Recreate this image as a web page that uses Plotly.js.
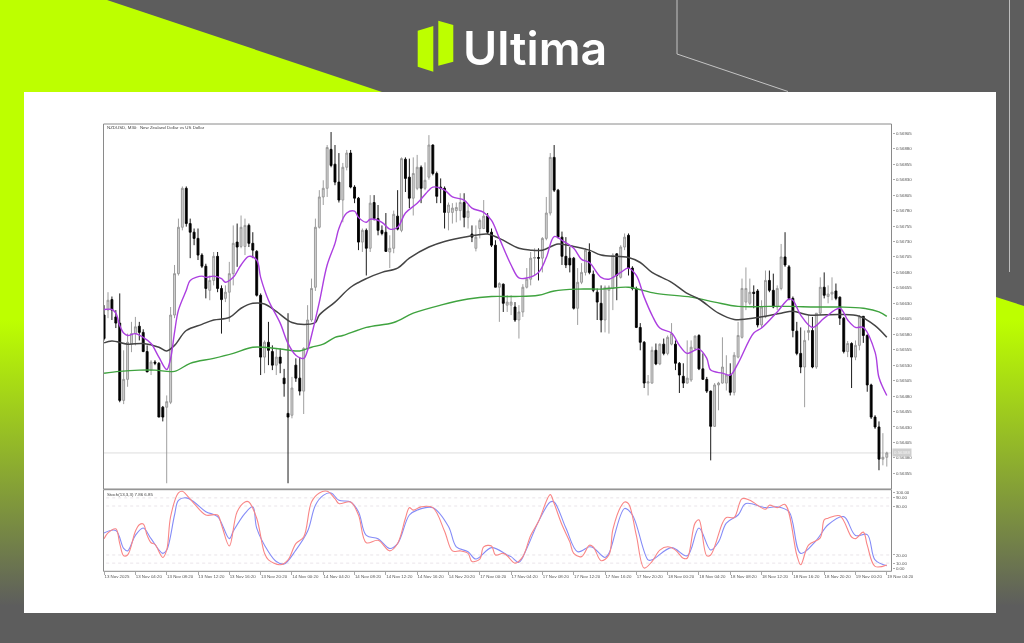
<!DOCTYPE html>
<html><head><meta charset="utf-8">
<script src="https://cdn.plot.ly/plotly-3.0.1.min.js"></script>
<style>
html,body{margin:0;padding:0;width:1024px;height:643px;overflow:hidden;background:#5d5d5d}
.g{position:absolute;left:0;top:0;width:1024px;height:643px;background:linear-gradient(#bdff00 0,#bdff00 320px,#5d5d5d 606px)}
#gl{clip-path:polygon(0 0,107px 0,382px 92px,24px 92px,24px 613px,0 613px)}
#gr{clip-path:polygon(996px 297px,1024px 306px,1024px 613px,996px 613px)}
#chart{position:absolute;left:0;top:0;width:1024px;height:643px}
#chart .cartesianlayer{filter:blur(0.35px)}
#chart .annotation:not([data-index="0"]){filter:blur(0.3px)}
</style></head><body>
<div id="gl" class="g"></div><div id="gr" class="g"></div><div id="chart"></div>
<script>
// Prices in points (1 point = 0.00001)
const opens=[56611,56619,56636,56608,56598,56473,56507,56564,56581,56593,56583,56552,56522,56535,56533,56462,56462,56470,56611,56678,56753,56816,56759,56745,56735,56708,56690,56651,56667,56706,56654,56638,56648,56678,56729,56722,56722,56756,56727,56714,56643,56543,56567,56552,56530,56543,56509,56452,56449,56530,56509,56488,56557,56603,56656,56753,56802,56816,56879,56855,56826,56797,56850,56873,56818,56800,56729,56748,56719,56793,56767,56748,56745,56713,56719,56771,56748,56863,56834,56800,56816,56850,56816,56834,56886,56840,56818,56816,56777,56777,56780,56780,56793,56769,56742,56719,56751,56751,56771,56745,56724,56656,56661,56627,56627,56624,56603,56616,56656,56669,56703,56704,56703,56735,56776,56866,56813,56737,56706,56703,56703,56622,56664,56680,56713,56677,56648,56630,56603,56651,56654,56710,56672,56721,56740,56687,56654,56591,56567,56501,56501,56554,56532,56564,56549,56564,56564,56533,56512,56501,56506,56557,56578,56524,56507,56488,56431,56498,56501,56501,56514,56486,56543,56575,56632,56630,56648,56650,56595,56608,56667,56651,56624,56654,56705,56689,56638,56585,56549,56527,56583,56586,56527,56614,56656,56641,56645,56650,56640,56606,56552,56565,56543,56562,56609,56578,56498,56446,56430,56378,56381];
const highs=[56627,56648,56641,56619,56646,56554,56581,56600,56608,56600,56588,56562,56538,56538,56535,56464,56481,56624,56692,56767,56819,56819,56767,56751,56751,56711,56694,56675,56713,56713,56659,56659,56697,56756,56759,56772,56767,56759,56745,56716,56646,56570,56600,56562,56557,56557,56524,56614,56511,56541,56543,56559,56627,56670,56767,56813,56829,56886,56907,56886,56873,56857,56878,56878,56821,56802,56751,56751,56805,56805,56789,56756,56776,56740,56780,56813,56866,56866,56864,56866,56870,56853,56858,56902,56887,56843,56832,56819,56793,56792,56793,56808,56808,56789,56756,56756,56767,56797,56776,56751,56732,56664,56662,56643,56643,56632,56627,56661,56687,56713,56719,56719,56737,56802,56873,56886,56815,56746,56737,56721,56705,56687,56695,56719,56727,56683,56654,56659,56659,56659,56711,56711,56724,56743,56743,56690,56657,56598,56569,56514,56560,56565,56565,56573,56578,56598,56570,56535,56533,56570,56570,56578,56580,56549,56511,56489,56501,56503,56575,56546,56533,56551,56600,56670,56688,56670,56659,56653,56635,56683,56683,56678,56659,56726,56745,56692,56641,56600,56591,56586,56611,56608,56614,56672,56680,56659,56672,56662,56641,56608,56569,56567,56570,56611,56609,56580,56500,56449,56439,56420,56390];
const lows=[56570,56606,56603,56590,56470,56467,56495,56551,56562,56570,56551,56519,56514,56530,56446,56439,56339,56467,56606,56675,56748,56754,56703,56724,56700,56687,56638,56635,56659,56648,56581,56632,56600,56659,56689,56719,56708,56721,56703,56641,56514,56517,56530,56522,56514,56517,56479,56339,56444,56503,56481,56451,56554,56600,56650,56751,56789,56802,56850,56821,56793,56761,56845,56816,56792,56716,56713,56675,56713,56764,56740,56740,56713,56687,56711,56748,56745,56810,56784,56772,56813,56792,56813,56830,56837,56792,56792,56751,56748,56759,56761,56764,56753,56751,56729,56714,56735,56750,56742,56721,56656,56600,56616,56616,56611,56600,56573,56608,56654,56659,56675,56667,56680,56732,56772,56810,56735,56692,56687,56680,56620,56595,56661,56675,56677,56648,56603,56583,56583,56581,56619,56635,56670,56716,56675,56651,56590,56554,56493,56481,56500,56530,56530,56546,56546,56562,56522,56485,56493,56500,56503,56554,56522,56506,56485,56376,56430,56457,56500,56489,56481,56481,56541,56573,56619,56627,56622,56591,56590,56606,56648,56622,56619,56651,56689,56635,56575,56546,56517,56462,56570,56525,56524,56611,56638,56630,56635,56635,56595,56549,56543,56493,56538,56554,56566,56487,56443,56427,56360,56368,56366];
const closes=[56573,56635,56619,56598,56473,56507,56567,56581,56592,56583,56552,56519,56535,56533,56446,56446,56471,56611,56678,56753,56816,56759,56745,56735,56708,56690,56654,56667,56706,56654,56636,56648,56678,56727,56721,56753,56756,56727,56716,56643,56543,56567,56554,56530,56543,56533,56500,56446,56493,56509,56488,56557,56603,56654,56753,56802,56816,56882,56853,56826,56797,56850,56873,56818,56800,56729,56748,56719,56792,56767,56748,56743,56714,56719,56774,56750,56864,56832,56800,56840,56850,56816,56829,56886,56840,56803,56816,56777,56789,56784,56785,56793,56769,56779,56737,56737,56764,56771,56745,56724,56656,56662,56630,56632,56632,56603,56616,56656,56669,56703,56704,56703,56735,56776,56866,56813,56737,56706,56692,56692,56622,56664,56680,56716,56680,56651,56632,56603,56656,56656,56708,56675,56721,56737,56687,56654,56591,56567,56501,56503,56554,56532,56564,56549,56575,56581,56533,56514,56501,56509,56559,56577,56524,56507,56488,56431,56498,56501,56527,56514,56486,56546,56578,56654,56654,56648,56646,56595,56624,56667,56651,56624,56654,56705,56692,56638,56586,56549,56527,56570,56586,56527,56614,56656,56643,56645,56648,56638,56606,56552,56565,56543,56562,56608,56578,56498,56446,56430,56378,56381,56388];

// Moving averages, read at the candle numbers listed
const fastIdx=[0,2,3,4,5,6,8,10,12,14,16,17,18,19,21,22,25,26,28,30,31,33,35,37,39,40,42,45,47,49,51,52,53,55,57,59,60,62,64,65,67,68,71,73,75,77,80,83,84,87,89,92,94,97,99,101,104,106,108,111,113,115,117,120,122,124,127,129,132,134,136,138,140,142,145,147,149,152,154,155,158,160,162,166,168,172,175,176,178,181,184,188,190,192,194,197,198,200];
const fastMA=[56620,56620,56614,56594,56582,56578,56581,56575,56565,56543,56523,56541,56583,56619,56651,56667,56674,56672,56674,56670,56664,56672,56692,56706,56700,56672,56635,56598,56565,56546,56541,56554,56578,56632,56692,56727,56751,56776,56779,56769,56761,56766,56761,56750,56753,56776,56792,56813,56818,56813,56802,56797,56784,56777,56764,56735,56692,56671,56671,56680,56704,56738,56732,56719,56701,56696,56672,56669,56680,56687,56675,56640,56611,56590,56582,56562,56549,56556,56541,56522,56517,56514,56533,56582,56590,56616,56637,56635,56611,56591,56606,56622,56603,56591,56591,56551,56510,56481];
const midIdx=[0,2,6,10,14,16,18,21,25,28,32,35,38,41,44,48,52,54,55,59,63,67,71,75,78,83,87,93,98,101,106,109,112,116,120,124,127,134,137,140,145,149,152,157,161,167,173,176,180,188,193,197,200];
const midMA=[56566,56569,56564,56565,56559,56553,56562,56586,56596,56603,56607,56622,56630,56629,56617,56599,56596,56599,56611,56632,56656,56670,56680,56687,56703,56721,56730,56738,56742,56735,56719,56716,56716,56726,56722,56716,56708,56704,56696,56680,56664,56646,56637,56614,56604,56607,56614,56617,56611,56612,56609,56594,56575];
const slowIdx=[0,4,9,13,18,22,28,33,38,44,50,53,56,59,61,67,74,79,86,93,99,105,111,115,121,127,129,134,141,150,156,162,170,175,182,188,194,198,200];
const slowMA=[56517,56520,56522,56522,56520,56533,56541,56549,56559,56557,56553,56559,56564,56575,56578,56591,56599,56614,56627,56637,56641,56641,56643,56650,56653,56653,56654,56656,56646,56640,56632,56625,56625,56625,56624,56624,56622,56616,56609];

// Stochastic(13,3,3)
const stochMainIdx=[0,1,3,4,5,6,8,9,10,11,12,13,15,16,17,19,20,21,23,26,29,30,32,34,36,37,39,41,42,45,47,49,51,53,55,57,59,60,63,65,67,70,73,75,77,78,79,81,84,87,89,91,93,94,96,97,99,100,102,103,105,107,109,111,114,115,117,119,120,122,124,125,127,129,130,132,133,134,136,138,140,142,144,146,148,149,151,152,154,155,158,159,161,163,165,169,170,172,174,177,178,180,183,184,185,188,191,192,194,195,197,200];
const stochMain=[40,47,52,34,19,20,49,57,58,44,35,33,17,26,67,96,98,94,83,69,69,57,31,73,85,85,65,22,14,8,14,34,42,85,96,98,89,83,85,69,35,38,25,34,65,78,75,79,78,49,25,25,22,12,15,30,31,20,22,19,10,18,44,61,94,83,57,36,22,18,32,30,13,20,51,79,85,83,44,4,12,26,30,26,16,16,59,63,19,20,59,66,66,89,87,76,81,78,82,20,8,32,41,63,65,68,42,40,48,32,6,7.86];
const stochSigIdx=[0,3,5,6,8,10,12,15,16,18,19,21,23,26,29,32,33,36,38,39,42,44,46,49,52,54,56,58,60,63,65,67,70,73,75,78,80,84,88,90,93,95,99,103,104,106,108,111,114,115,118,121,124,125,128,129,133,135,139,140,145,149,152,155,157,159,162,164,169,172,175,178,182,185,189,192,195,197,200];
const stochSig=[47,50,28,25,44,53,40,22,26,69,87,90,85,73,67,40,49,71,79,53,24,12,9,26,49,81,93,96,87,85,73,44,40,28,34,69,75,78,55,30,24,15,29,20,18,11,28,61,85,85,53,24,30,29,17,22,77,69,14,14,29,19,53,26,36,59,69,83,78,79,73,22,38,57,67,44,45,14,6.85];
const stochLevels=[90,80,20,10];

// Axis labels
const priceTicks=[0.56905,0.56880,0.56855,0.56830,0.56805,0.56780,0.56755,0.56730,0.56705,0.56680,0.56655,0.56630,0.56605,0.56580,0.56555,0.56530,0.56505,0.56480,0.56455,0.56430,0.56405,0.56380,0.56355];
const timeLabels=["13 Nov 2025","13 Nov 04:20","13 Nov 08:20","13 Nov 12:20","13 Nov 16:20","13 Nov 20:20","14 Nov 00:20","14 Nov 04:20","14 Nov 08:20","14 Nov 12:20","14 Nov 16:20","14 Nov 20:20","17 Nov 00:20","17 Nov 04:20","17 Nov 08:20","17 Nov 12:20","17 Nov 16:20","17 Nov 20:20","18 Nov 00:20","18 Nov 04:20","18 Nov 08:20","18 Nov 12:20","18 Nov 16:20","18 Nov 20:20","19 Nov 00:20","19 Nov 04:20"];
const stochTicks=[97,90,80,20,10,3];
const stochTickText=["100.00","90.00","80.00","20.00","10.00","0.00"];
const lastPrice=0.56388;

const P=a=>a.map(v=>v/1e5);
const xp=v=>v/1024, yp=v=>1-v/643;
const poly=(pts,fill,line)=>({type:'path',xref:'paper',yref:'paper',layer:'below',
  path:'M'+pts.map(p=>xp(p[0])+','+yp(p[1])).join('L')+(fill?'Z':''),
  fillcolor:fill||'rgba(0,0,0,0)',line:line||{width:0}});
const tickFont={family:'"Liberation Sans",Arial,sans-serif',size:4.4,color:'#555'};
const idx=opens.map((_,i)=>i);

const traces=[
 {type:'candlestick',x:idx,open:P(opens),high:P(highs),low:P(lows),close:P(closes),xaxis:'x',yaxis:'y',width:0.55,
  whiskerwidth:0,
  increasing:{line:{color:'#949494',width:0.9},fillcolor:'#d4d4d4'},
  decreasing:{line:{color:'#000',width:0.9},fillcolor:'#000'},showlegend:false,hoverinfo:'skip'},
 {type:'scatter',mode:'lines',x:slowIdx,y:P(slowMA),line:{color:'#3fa33f',width:1.4,shape:'spline'},xaxis:'x',yaxis:'y',showlegend:false},
 {type:'scatter',mode:'lines',x:midIdx,y:P(midMA),line:{color:'#444',width:1.5,shape:'spline'},xaxis:'x',yaxis:'y',showlegend:false},
 {type:'scatter',mode:'lines',x:fastIdx,y:P(fastMA),line:{color:'#ac3fe0',width:1.4,shape:'spline'},xaxis:'x',yaxis:'y',showlegend:false},
 {type:'scatter',mode:'lines',x:stochSigIdx,y:stochSig,line:{color:'#858cf7',width:1.1,shape:'spline'},xaxis:'x',yaxis:'y2',showlegend:false},
 {type:'scatter',mode:'lines',x:stochMainIdx,y:stochMain,line:{color:'#f98686',width:1.1,shape:'spline'},xaxis:'x',yaxis:'y2',showlegend:false}
];

const frame=(x0,y0,x1,y1)=>({type:'rect',xref:'paper',yref:'paper',layer:'above',x0:xp(x0),x1:xp(x1),y0:yp(y0),y1:yp(y1),line:{color:'#8a8a8a',width:1},fillcolor:'rgba(0,0,0,0)'});
const shapes=[
 // card
 {type:'rect',xref:'paper',yref:'paper',layer:'below',x0:xp(24),x1:xp(996),y0:yp(92),y1:yp(613),fillcolor:'#fff',line:{width:0}},
 // thin page lines
 poly([[677,0],[677,54],[788,91.5]],null,{color:'#c4c4c4',width:1}),
 poly([[1009.5,0],[1009.5,272]],null,{color:'#bdbdbd',width:1}),
 // logo mark
 poly([[417.7,30.7],[433.3,26],[433.3,71.7],[417.7,66.7]],'#bdff00'),
 poly([[438.3,20.7],[453.3,25],[453.3,61.7],[438.3,65.7]],'#bdff00'),
 frame(103.5,124,891.5,489),
 frame(103.5,489.7,891.5,571.3),
 {type:'line',xref:'x',yref:'y',x0:-1,x1:202,y0:lastPrice,y1:lastPrice,line:{color:'#cfcfcf',width:0.7},layer:'below'},
 ...stochLevels.map(v=>({type:'line',xref:'x',yref:'y2',x0:-1,x1:202,y0:v,y1:v,line:{color:'#e0d8e0',width:0.7,dash:'dot'},layer:'below'}))
];

const layout={
 width:1024,height:643,margin:{l:0,r:0,t:0,b:0},autosize:false,
 paper_bgcolor:'rgba(0,0,0,0)',plot_bgcolor:'rgba(0,0,0,0)',showlegend:false,hovermode:false,
 xaxis:{domain:[xp(103.5),xp(891.5)],range:[-0.15,201.2],anchor:'y2',rangeslider:{visible:false},showgrid:false,zeroline:false,
  tickmode:'array',tickvals:timeLabels.map((_,i)=>i*8),ticktext:timeLabels,ticks:'outside',ticklen:3,tickwidth:0.7,tickcolor:'#888',
  tickfont:tickFont,tickangle:0,ticklabelposition:'outside right',showline:false,automargin:false},
 yaxis:{domain:[yp(489),yp(124)],range:[0.563297,0.56920],side:'right',anchor:'x',showgrid:false,zeroline:false,
  tickmode:'array',tickvals:priceTicks,ticktext:priceTicks.map(v=>v.toFixed(5)),ticks:'outside',ticklen:2.5,tickwidth:0.7,tickcolor:'#888',tickfont:tickFont,automargin:false},
 yaxis2:{domain:[yp(571.3),yp(489.7)],range:[0,100],side:'right',anchor:'x',showgrid:false,zeroline:false,
  tickmode:'array',tickvals:stochTicks,ticktext:stochTickText,ticks:'outside',ticklen:2.5,tickwidth:0.7,tickcolor:'#888',tickfont:tickFont,automargin:false},
 shapes:shapes,
 annotations:[
  {xref:'paper',yref:'paper',x:xp(460.5),y:yp(48),xanchor:'left',yanchor:'middle',showarrow:false,text:'Ultima',
   font:{family:'Inter,"Open Sans",sans-serif',size:46.5,color:'#fff',weight:600}},
  {xref:'paper',yref:'paper',x:xp(104.5),y:yp(127.5),xanchor:'left',yanchor:'middle',showarrow:false,text:'NZDUSD, M30:  New Zealand Dollar vs US Dollar',
   font:{family:'"Liberation Sans",Arial,sans-serif',size:4.4,color:'#444'}},
  {xref:'paper',yref:'paper',x:xp(104.5),y:yp(494.5),xanchor:'left',yanchor:'middle',showarrow:false,text:'Stoch(13,3,3) 7.86 6.85',
   font:{family:'"Liberation Sans",Arial,sans-serif',size:4.4,color:'#444'}},
  {xref:'paper',yref:'y',x:xp(892),y:lastPrice,xanchor:'left',yanchor:'middle',showarrow:false,text:lastPrice.toFixed(5),bgcolor:'#cfcfcf',borderpad:1,
   font:{family:'"Liberation Sans",Arial,sans-serif',size:4.4,color:'#f4f4f4'}}
 ]
};
Plotly.newPlot('chart',traces,layout,{staticPlot:true,displayModeBar:false});
</script>
</body></html>
